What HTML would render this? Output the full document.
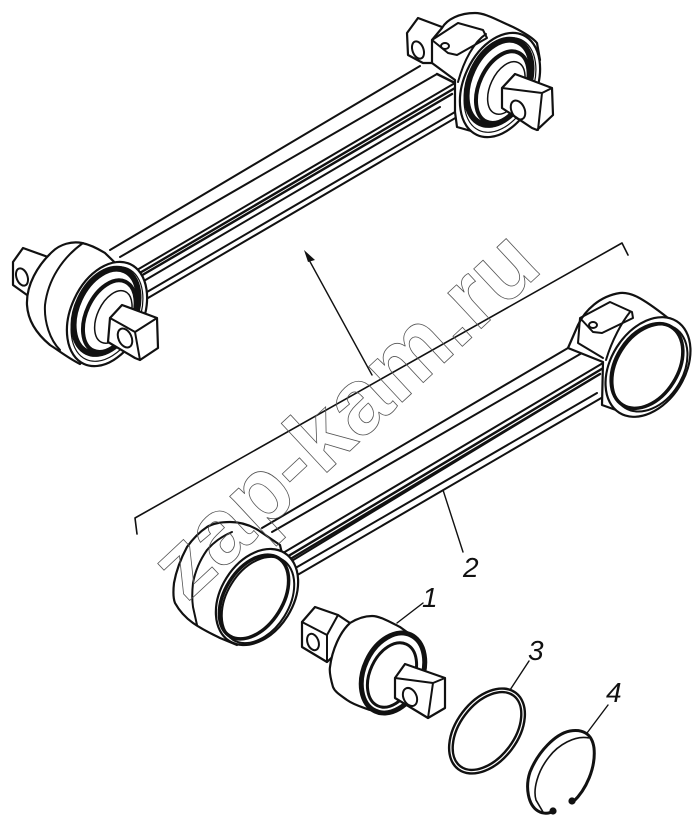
<!DOCTYPE html>
<html><head><meta charset="utf-8"><style>
html,body{margin:0;padding:0;background:#fff;width:700px;height:831px;overflow:hidden}
svg{display:block}
.l{fill:none;stroke:#111;stroke-width:2;stroke-linecap:round;stroke-linejoin:round}
.f{fill:#fff;stroke:#111;stroke-width:2.2;stroke-linejoin:round;stroke-linecap:round}
.t{font-family:"Liberation Sans",sans-serif;font-style:italic;font-size:28px;fill:#111}
</style></head><body>
<svg width="700" height="831" viewBox="0 0 700 831" xmlns="http://www.w3.org/2000/svg">
<defs>
<g id="hub">
<ellipse rx="55" ry="36" transform="rotate(-65)" class="f"/>
<ellipse rx="50" ry="32" transform="rotate(-65)" class="l" style="stroke-width:1.2"/>
<ellipse cx="2" cy="-2" rx="45" ry="29" transform="rotate(-65)" fill="#fff" stroke="#111" stroke-width="6"/>
<ellipse cx="-1" cy="3" rx="38" ry="23" transform="rotate(-65)" fill="#fff" stroke="#111" stroke-width="4"/>
<ellipse cx="0" cy="7" rx="28" ry="16" transform="rotate(-65)" class="f" style="stroke-width:1.5"/>
</g>
</defs>

<!-- upper arm -->
<path class="f" d="M407 33 L418 18 L442 27 L445 45 L432 63 L423 63 L408 55 Z"/>
<ellipse cx="418" cy="50" rx="5.5" ry="9" transform="rotate(-20 418 50)" class="l"/>
<path fill="#fff" d="M110 250 L420 66 L458 85 L458 123 L148 298 Z"/>
<path class="l" d="M110 250L420 66M120 257L437 74M137 270L455 83M142 282L440 107M147 292L455 112M148 298L457 117"/>
<path class="l" style="stroke-width:2.4" d="M138 274L455 88M437 74L455 83M139 277L452 94"/>
<path class="f" d="M442 28 C447 19 460 13 475 13 C485 13 495 19 513 27 C525 33 533 38 537 43 L540 60 L485 135 L457 127 L455 112 L455 80 L432 63 L432 40 Z"/>
<path class="l" d="M432 40L458 23L483 30L487 38L457 55L448 53Z M458 82C464 60 474 42 486 34"/>
<ellipse cx="445" cy="46" rx="4" ry="3" class="l"/>
<use href="#hub" x="500" y="85"/>
<path class="f" d="M502 88 L515 74 L552 88 L553 115 L537 130 L532 128 L502 108 Z"/>
<path class="l" d="M515 74L502 88M542 93L538 130M542 93L552 88M502 88L542 93"/>
<ellipse cx="518" cy="110" rx="6.5" ry="10" transform="rotate(-25 518 110)" class="l"/>

<!-- upper-left hub -->
<path class="f" d="M13 262 L23 248 L48 257 L45 285 L27 295 L13 285 Z"/>
<ellipse cx="22" cy="277" rx="5.5" ry="9" transform="rotate(-20 22 277)" class="l"/>
<path class="f" d="M52 252 C60 244 72 241 82 243 C92 245 100 250 105 253 L143 290 L80 364 C68 358 58 350 50 345 C38 335 28 322 27 305 C26 285 38 265 52 252 Z"/>
<path class="l" d="M83 243 C62 258 48 280 45 305 C44 322 50 340 60 350"/>
<use href="#hub" x="107" y="314"/>
<path class="f" d="M110 318 L122 305 L157 318 L158 348 L140 360 L135 358 L108 342 Z"/>
<path class="l" d="M135 332L140 360M135 332L157 318M110 318L135 332"/>
<ellipse cx="125" cy="338" rx="6.5" ry="10" transform="rotate(-25 125 338)" class="l"/>

<!-- bracket & arrow -->
<path class="l" style="stroke-width:1.6" d="M628 255 L622 243 L135 518 L137 534"/>
<path class="l" style="stroke-width:1.4" d="M372 375 L308 258"/>
<path fill="#111" d="M304 250 L315 260 L308 262 Z"/>

<!-- lower arm -->
<path fill="#fff" d="M262 528 L568 348 L605 367 L603 397 L294 577 Z"/>
<path class="l" d="M262 528L568 348M272 532L582 353M283 553L603 363M285 565L590 380M292 570L597 393M294 577L603 397"/>
<path class="l" style="stroke-width:2.4" d="M285 558L605 367M582 353L605 362M287 561L600 374"/>
<path class="f" d="M568 348 L578 325 C585 310 600 296 620 293 C630 292 640 296 668 318 L686 345 L630 415 L602 405 L603 362 Z"/>
<path class="l" d="M580 318L610 302L632 312L633 318L602 333L593 332Z M580 318L578 343L603 358M606 360C612 340 622 322 630 312"/>
<ellipse cx="593" cy="325" rx="4" ry="3" class="l"/>
<ellipse cx="648" cy="367" rx="54" ry="37" transform="rotate(-58 648 367)" class="f"/>
<ellipse cx="647" cy="366" rx="46" ry="31" transform="rotate(-58 647 366)" fill="#fff" stroke="#111" stroke-width="3.5"/>
<ellipse cx="650" cy="368" rx="47" ry="33" transform="rotate(-58 650 368)" class="l"/>

<path class="f" d="M258 530 C248 524 238 522 230 522 C220 522 212 524 207 527 C198 533 192 540 187 547 C180 560 176 572 174 583 C173 592 173 598 175 603 C180 612 186 618 193 623 C203 630 212 634 220 638 L237 645 L288 580 L280 545 Z"/>
<path class="l" d="M232 532C220 537 213 543 207 550C200 560 195 572 193 583C192 592 192 600 193 607L197 625"/>
<ellipse cx="257" cy="597" rx="52" ry="36" transform="rotate(-58 257 597)" class="f"/>
<ellipse cx="254" cy="597" rx="46" ry="29" transform="rotate(-58 254 597)" fill="#fff" stroke="#111" stroke-width="3.5"/>
<ellipse cx="258" cy="600" rx="47" ry="31" transform="rotate(-58 258 600)" class="l"/>

<!-- bushing 1 -->
<path class="f" d="M302 622 L315 607 L338 615 L350 623 L345 645 L327 662 L302 647 Z"/>
<path class="l" d="M302 622L327 635L327 662M327 635L338 615"/>
<ellipse cx="313" cy="642" rx="5.5" ry="8.5" transform="rotate(-20 313 642)" class="l"/>
<path class="f" d="M350 623 C358 618 365 616 372 616 C380 616 390 622 400 627 L418 640 L380 713 L370 710 C362 707 354 705 347 700 C340 695 335 692 333 687 C331 680 329 672 330 667 C332 650 340 632 350 623 Z"/>
<ellipse cx="393" cy="673" rx="42" ry="29" transform="rotate(-65 393 673)" fill="#fff" stroke="#111" stroke-width="5"/>
<ellipse cx="392" cy="675" rx="34" ry="22" transform="rotate(-65 392 675)" fill="#fff" stroke="#111" stroke-width="3"/>
<path class="f" d="M395 678 L405 664 L445 678 L445 708 L428 718 L395 698 Z"/>
<path class="l" d="M433 683L428 718M433 683L445 678M395 678L433 683"/>
<ellipse cx="410" cy="697" rx="6.5" ry="9.5" transform="rotate(-25 410 697)" class="l"/>

<!-- rings -->
<ellipse cx="487" cy="731" rx="46" ry="29" transform="rotate(-53 487 731)" fill="none" stroke="#111" stroke-width="6"/>
<ellipse cx="487" cy="731" rx="46" ry="29" transform="rotate(-53 487 731)" fill="none" stroke="#fff" stroke-width="1.2"/>
<path fill="none" stroke="#111" stroke-width="3" stroke-linecap="round" d="M573 802 C586 790 596 768 594 748 C592 733 582 729 570 731 C555 734 538 752 530 772 C525 787 528 805 538 811 C543 814 549 814 553 811"/>
<path fill="none" stroke="#111" stroke-width="1.6" d="M589 738 C575 735 558 745 549 757 C537 772 533 790 536 800 L543 812"/>
<circle cx="572" cy="801" r="3.6" fill="#111"/><circle cx="553" cy="811" r="3.6" fill="#111"/>

<!-- leaders -->
<path class="l" style="stroke-width:1.4" d="M397 623L423 603M443 490L463 552M510 690L529 661M587 733L608 705"/>
<text x="422" y="607" class="t">1</text>
<text x="463" y="577" class="t">2</text>
<text x="528" y="660" class="t">3</text>
<text x="606" y="702" class="t">4</text>

<!-- watermark -->
<text x="187" y="603" transform="rotate(-43 187 603)" font-family="'Liberation Sans',sans-serif" font-weight="bold" font-size="92.5" fill="none" stroke="#555" stroke-width="0.8">zap-kam.ru</text>
</svg>
</body></html>
